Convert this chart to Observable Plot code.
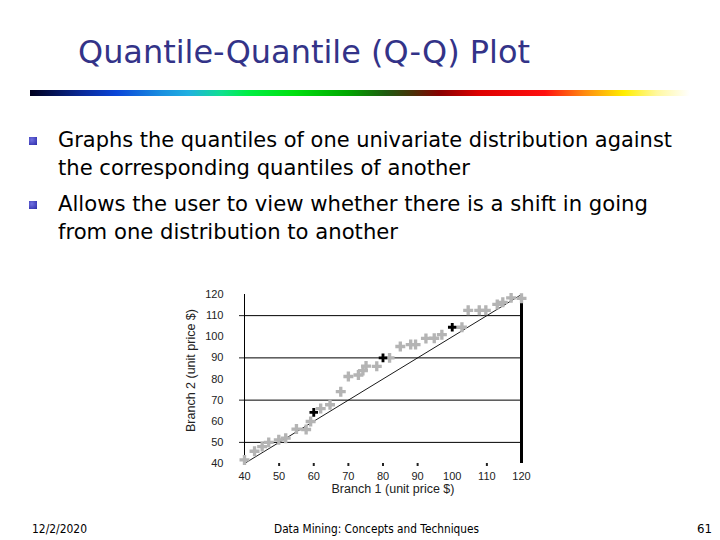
<!DOCTYPE html>
<html><head><meta charset="utf-8">
<script src="https://cdn.jsdelivr.net/npm/d3@7"></script>
<script src="https://cdn.jsdelivr.net/npm/@observablehq/plot@0.6"></script>
<style>
html,body{margin:0;padding:0;background:#fff;}
#page{position:relative;width:720px;height:540px;overflow:hidden;font-family:"DejaVu Sans",sans-serif;}
.t{position:absolute;white-space:nowrap;transform-origin:0 0;}
.title{font-size:32px;line-height:40px;color:#333388;}
.bl{font-size:21px;line-height:28px;color:#000;}
.ft{font-size:12px;line-height:16px;color:#000;}
.sq{position:absolute;width:8px;height:8px;background:radial-gradient(circle at 35% 35%,#7070e0,#2a2aa8);}
#bar{position:absolute;left:30px;top:90px;width:660px;height:6px;
background:linear-gradient(to right,#00001e 0%,#0a2a9a 8%,#0a45d8 13%,#1a90e0 20%,#20b0e0 24%,#10e090 29%,#00ee44 33%,#00e010 40%,#00a800 48%,#1f5a10 54%,#4a3008 58%,#880000 62%,#dd0000 68%,#ff1010 78%,#ff8a10 84%,#ffee00 90%,#fff8a0 95%,#ffffff 100%);}
</style></head><body><div id="page"><div id="bar"></div></div>
<script>
// ---- slide texts ----
const title = "Quantile-Quantile (Q-Q) Plot";
const bulletLines = [
  "Graphs the quantiles of one univariate distribution against",
  "the corresponding quantiles of another",
  "Allows the user to view whether there is a shift in going",
  "from one distribution to another"
];
const footerLeft = "12/2/2020";
const footerCenter = "Data Mining: Concepts and Techniques";
const footerRight = "61";

// ---- chart data ----
const xTitle = "Branch 1 (unit price $)";
const yTitle = "Branch 2 (unit price $)";
const xTicks = [40, 50, 60, 70, 80, 90, 100, 110, 120];
const yTicks = [40, 50, 60, 70, 80, 90, 100, 110, 120];
const gridY = [50, 70, 90, 110];
const xTickMarks = [50, 60, 70, 80, 90, 110];
// quantiles (gray points)
const branch1 = [40, 42.9, 45.1, 47, 49.9, 51.9, 55, 57.8, 59.1, 62, 64.7, 67.8, 70, 72.9, 74.2, 75.1, 78.2, 81.9, 85, 88, 89.4, 92.4, 94.8, 97, 102.8, 104.6, 107.8, 109.7, 113, 114.6, 117, 120];
const branch2 = [41.7, 45.8, 48, 50, 51.2, 52, 56.3, 56.1, 59.9, 66, 67.8, 74, 81.2, 81.9, 84, 86.1, 86, 90, 95.4, 96.3, 96.3, 99.2, 99.3, 101, 104.5, 112.5, 112.5, 112.5, 115.3, 116.3, 118.4, 118.2];
// highlighted quantiles (black points)
const keyX = [60, 80, 100];
const keyY = [64.2, 90, 104.5];
// reference line y = x
const refX = [40, 120];
const refY = [40, 120];

const page = document.getElementById("page");
function addText(txt, cls, left, top, w) {
  const d = document.createElement("div");
  d.className = "t " + cls;
  d.textContent = txt;
  d.style.left = left + "px";
  d.style.top = top + "px";
  page.appendChild(d);
  if (w) {
    const nat = d.getBoundingClientRect().width;
    d.style.transform = `scaleX(${w / nat})`;
  }
  return d;
}
addText(title, "title", 78, 32, 452);
const tops = [126, 154, 190, 218];
const widths = [614, 412, 590, 340];
bulletLines.forEach((s, i) => addText(s, "bl", 58, tops[i], widths[i]));
[0, 2].forEach(i => {
  const q = document.createElement("div");
  q.className = "sq";
  q.style.left = "29px";
  q.style.top = (tops[i] + 11) + "px";
  page.appendChild(q);
});
addText(footerLeft, "ft", 32, 521, 55);
addText(footerCenter, "ft", 274, 521, 205);
addText(footerRight, "ft", 697, 521, 15);

const pts = branch1.map((x, i) => ({x, y: branch2[i]}));
const keys = keyX.map((x, i) => ({x, y: keyY[i]}));
const ref = refX.map((x, i) => ({x, y: refY[i]}));

const chart = Plot.plot({
  width: 370, height: 220,
  marginLeft: 74, marginRight: 19, marginTop: 14, marginBottom: 37,
  x: {domain: [40, 120]},
  y: {domain: [40, 120]},
  style: {fontFamily: "'Liberation Sans', Arial, sans-serif", fontSize: "11px", color: "#222", background: "transparent", overflow: "visible"},
  marks: [
    Plot.ruleY(gridY, {x1: 40, x2: 120, stroke: "#000", strokeWidth: 1}),
    Plot.ruleX([40], {y1: 40, y2: 120, stroke: "#000", strokeWidth: 1}),
    Plot.ruleX([120], {y1: 40, y2: 120, stroke: "#000", strokeWidth: 3, insetBottom: -5}),
    Plot.axisY(gridY, {tickSize: 5, tickFormat: () => "", label: null}),
    Plot.axisY(yTicks, {tickSize: 0, tickPadding: 21, label: null, fontSize: 11}),
    Plot.axisX(xTickMarks, {tickSize: 3, tickFormat: () => "", label: null, strokeWidth: 2}),
    Plot.axisX(xTicks, {tickSize: 0, tickPadding: 9, label: null, fontSize: 11}),
    Plot.line(ref, {x: "x", y: "y", stroke: "#000", strokeWidth: 0.9}),
    Plot.dot(pts, {x: "x", y: "y", symbol: "cross", r: 4.2, fill: "#b4b4b4", stroke: "none"}),
    Plot.dot(keys, {x: "x", y: "y", symbol: "cross", r: 3.6, fill: "#000", stroke: "none"}),
    Plot.text([xTitle], {frameAnchor: "bottom", dy: 29, dx: 10, fontSize: 12.5, fill: "#222"}),
    Plot.text([yTitle], {frameAnchor: "left", rotate: -90, dx: -54, dy: 53, fontSize: 12.5, fill: "#222"})
  ]
});
chart.style.position = "absolute";
chart.style.left = "170px";
chart.style.top = "280px";
page.appendChild(chart);
</script>
</body></html>
